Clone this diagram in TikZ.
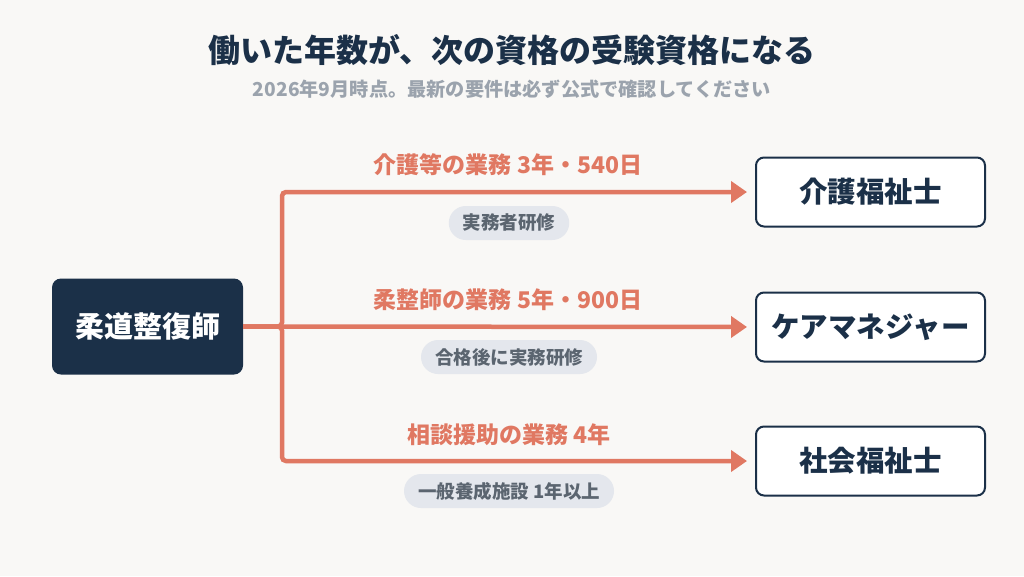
\documentclass[tikz,border=0pt]{standalone}
\usepackage{fontspec}
\setmainfont{Noto Sans CJK JP}
\usetikzlibrary{arrows.meta}
\definecolor{bg}{HTML}{F9F8F6}
\definecolor{navy}{HTML}{1B3048}
\definecolor{coral}{HTML}{E07862}
\definecolor{subgrey}{HTML}{9BA3AD}
\definecolor{pillfill}{HTML}{E4E7ED}
\definecolor{pilltext}{HTML}{5B6570}
\tikzset{
  srcbox/.style={fill=navy, rounded corners=9pt, minimum width=191pt, minimum height=96pt, text=white, font=\fontsize{29}{32}\selectfont\bfseries, inner sep=0pt},
  tgtbox/.style={draw=navy, line width=2pt, fill=white, rounded corners=8pt, minimum width=229pt, minimum height=69pt, text=navy, font=\fontsize{28.5}{32}\selectfont\bfseries, inner sep=0pt},
  lbl/.style={text=coral, font=\fontsize{23}{26}\selectfont\bfseries, inner sep=0pt},
  pill/.style={fill=pillfill, rounded corners=17pt, minimum height=34pt, inner xsep=14pt, inner ysep=0pt, text=pilltext, font=\fontsize{18.5}{22}\selectfont\bfseries},
  conn/.style={draw=coral, line width=4.5pt, rounded corners=4pt, -{Triangle[length=16pt,width=21pt]}, shorten >=8pt},
}
\begin{document}
\begin{tikzpicture}[x=1pt,y=-1pt]
\useasboundingbox[fill=bg] (0,0) rectangle (1024,576);
\node[text=navy, font=\fontsize{32}{36}\selectfont\bfseries] (title) at (512,50) {働いた年数が、次の資格の受験資格になる};
\node[text=subgrey, font=\fontsize{19.2}{22}\selectfont\bfseries] (sub) at (512,89) {2026年9月時点。最新の要件は必ず公式で確認してください};
\node[srcbox] (src) at (147.5,326.5) {柔道整復師};
\node[tgtbox] (t1) at (870.5,192) {介護福祉士};
\node[tgtbox] (t2) at (870.5,327) {ケアマネジャー};
\node[tgtbox] (t3) at (870.5,461) {社会福祉士};
\coordinate (j) at (282,326.5);
\draw[conn] (src.east) -- (j) |- (t1.west);
\draw[conn] (src.east) -- (t2.west);
\draw[conn] (src.east) -- (j) |- (t3.west);
\node[lbl] (l1) at (508,165) {介護等の業務 3年・540日};
\node[lbl] (l2) at (508,300) {柔整師の業務 5年・900日};
\node[lbl] (l3) at (509,435) {相談援助の業務 4年};
\node[pill] (p1) at (509,223) {実務者研修};
\node[pill] (p2) at (509,357) {合格後に実務研修};
\node[pill] (p3) at (509,491) {一般養成施設 1年以上};
\end{tikzpicture}
\end{document}
